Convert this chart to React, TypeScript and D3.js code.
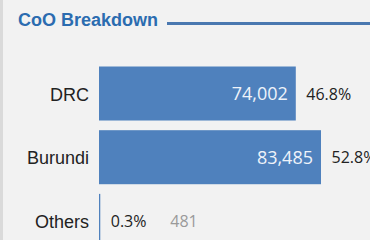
import React from "react";
import * as d3 from "d3";

const W = 370;
const H = 240;

// data
const categories = ["DRC", "Burundi", "Others"];
const counts = [74002, 83485, 481];
const shares = ["46.8%", "52.8%", "0.3%"];

const title = "CoO Breakdown";
const barColor = "#4f81bd";
const titleColor = "#2b6cb0";

export default function App() {
  const x = d3.scaleLinear().domain([0, 83485]).range([99, 321]);
  const y = d3
    .scaleBand()
    .domain(categories)
    .range([66.5, 247.9])
    .paddingInner(0.152)
    .paddingOuter(0);

  return (
    <svg
      width={W}
      height={H}
      style={{ position: "absolute", left: 0, top: 0, background: "#f2f2f2" }}
    >
      <rect x={0} y={0} width={3} height={H} fill="#dadada" />
      <text
        x={18}
        y={26}
        fontFamily="Liberation Sans, Arial, sans-serif"
        fontWeight="bold"
        fontSize={18}
        fill={titleColor}
      >
        {title}
      </text>
      <line x1={167} x2={W} y1={23.5} y2={23.5} stroke="#4a78b0" strokeWidth={3} />

      {categories.map((c, i) => {
        const y0 = y(c) as number;
        const bw = y.bandwidth();
        const cy = y0 + bw / 2;
        const end = x(counts[i]);
        const wide = end - x(0) > 80;
        return (
          <g key={c}>
            <rect x={x(0)} y={y0} width={end - x(0)} height={bw} fill={barColor} />
            <text
              x={89}
              y={cy + 7}
              textAnchor="end"
              fontFamily="Liberation Sans, Arial, sans-serif"
              fontSize={18}
              fill="#222"
            >
              {c}
            </text>
            {wide ? (
              <text
                x={end - 8}
                y={cy + 6.5}
                textAnchor="end"
                fontFamily="Open Sans, sans-serif"
                fontSize={18}
                fill="#eef3fa"
              >
                {d3.format(",")(counts[i])}
              </text>
            ) : (
              <text
                x={end + 70}
                y={cy + 6}
                fontFamily="Open Sans, sans-serif"
                fontSize={16}
                fill="#9a9a9a"
              >
                {d3.format(",")(counts[i])}
              </text>
            )}
            <text
              x={end + 10.5}
              y={cy + 6}
              fontFamily="Open Sans, sans-serif"
              fontSize={16}
              fill="#222"
            >
              {shares[i]}
            </text>
          </g>
        );
      })}
    </svg>
  );
}
